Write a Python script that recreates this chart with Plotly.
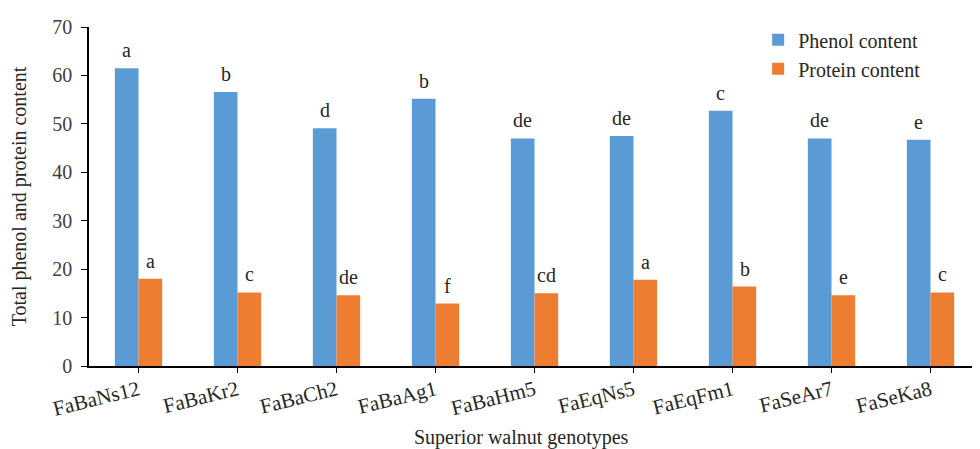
import plotly.graph_objects as go

genotypes = ["FaBaNs12", "FaBaKr2", "FaBaCh2", "FaBaAg1", "FaBaHm5",
             "FaEqNs5", "FaEqFm1", "FaSeAr7", "FaSeKa8"]
phenol = [61.5, 56.6, 49.1, 55.2, 47.0, 47.5, 52.7, 47.0, 46.7]
protein = [18.0, 15.2, 14.6, 12.9, 15.0, 17.8, 16.4, 14.6, 15.2]
phenol_letters = ["a", "b", "d", "b", "de", "de", "c", "de", "e"]
protein_letters = ["a", "c", "de", "f", "cd", "a", "b", "e", "c"]
y_ticks = [0, 10, 20, 30, 40, 50, 60, 70]

FONT = "Liberation Serif, Times New Roman, serif"
FS = 20
TXT = "#262626"

# the page body adds an 8px offset; figure is sized to the visible area
W, H = 972, 441
L, T, B = 81, 19, 83
PH = H - T - B

fig = go.Figure()
fig.add_trace(go.Bar(
    x=genotypes, y=phenol, name="Phenol content",
    marker=dict(color="#5B9BD5", line=dict(width=0)),
))
fig.add_trace(go.Bar(
    x=genotypes, y=protein, name="Protein content",
    marker=dict(color="#ED7D31", line=dict(width=0)),
))

# significance letters above each bar
for g, v, t in zip(genotypes, phenol, phenol_letters):
    fig.add_annotation(x=g, y=v, text=t, xshift=-12, yshift=5, yanchor="bottom",
                       showarrow=False, font=dict(family=FONT, size=FS, color=TXT))
for g, v, t in zip(genotypes, protein, protein_letters):
    fig.add_annotation(x=g, y=v, text=t, xshift=12, yshift=5, yanchor="bottom",
                       showarrow=False, font=dict(family=FONT, size=FS, color=TXT))

fig.update_layout(
    width=W, height=H,
    margin=dict(l=L, r=0, t=T, b=B, pad=0),
    plot_bgcolor="white", paper_bgcolor="white",
    barmode="group", bargap=0.522, bargroupgap=0,
    font=dict(family=FONT, size=FS, color=TXT),
    showlegend=True,
    legend=dict(x=0.751, y=1.02, xanchor="left", yanchor="top",
                font=dict(family=FONT, size=FS, color=TXT),
                bgcolor="rgba(0,0,0,0)", tracegroupgap=0),
)
fig.update_xaxes(
    range=[-0.5, 8.5], showgrid=False, showline=True, linecolor="black",
    linewidth=1.5, ticks="outside", ticklen=5, tickcolor="black",
    tickangle=-14, tickfont=dict(family=FONT, size=21, color=TXT),
    ticklabelstandoff=-3, automargin=False,
)
fig.update_yaxes(
    range=[0, 70], tickvals=y_ticks, showgrid=False, showline=True,
    linecolor="black", linewidth=1.5, ticks="outside", ticklen=6,
    tickcolor="black", zeroline=False, automargin=False,
    ticklabelstandoff=5,
    tickfont=dict(family=FONT, size=FS, color="#404040"),
    title=dict(text="Total phenol and protein content",
               font=dict(family=FONT, size=FS, color=TXT), standoff=20),
)
fig.add_annotation(
    text="Superior walnut genotypes", xref="paper", yref="paper",
    x=(521 - 89) / 891, y=-(437 - 366) / PH, xanchor="center", yanchor="middle",
    showarrow=False, font=dict(family=FONT, size=FS, color=TXT),
)

fig.write_html("out.html")
